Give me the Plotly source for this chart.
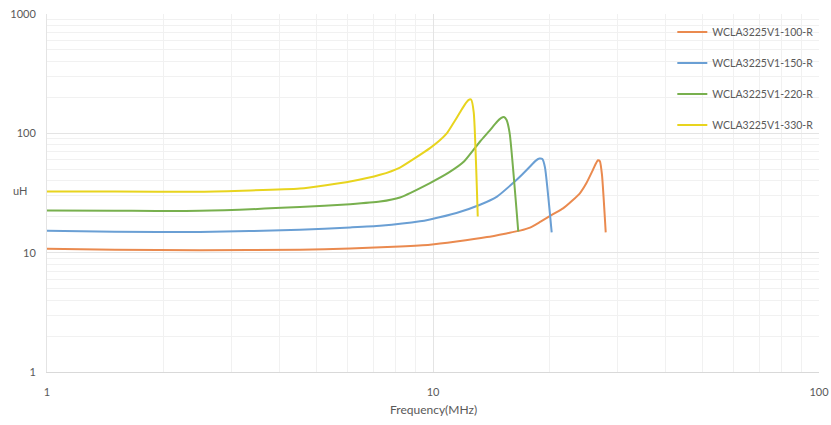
import plotly.graph_objects as go

# Frequency (MHz) / inductance (uH)
f_100 = [1.0, 1.5, 2.49, 4.52, 6.10, 8.21, 9.82, 11.5, 13.8, 15.5, 16.8, 17.84, 19.0, 20.46, 21.72, 23.0, 24.04, 25.0, 25.97, 26.4, 26.75, 27.05, 27.4, 28.02]
L_100 = [10.8, 10.6, 10.5, 10.57, 10.85, 11.27, 11.65, 12.4, 13.5, 14.5, 15.3, 16.2, 18.2, 21.0, 23.5, 27.5, 31.6, 38.5, 49.5, 55.5, 59.5, 58.5, 45.0, 14.8]

f_150 = [1.0, 1.5, 2.49, 4.52, 6.10, 7.29, 9.25, 9.82, 11.5, 13.24, 14.65, 16.12, 17.0, 17.84, 18.4, 18.86, 19.2, 19.5, 20.3]
L_150 = [15.3, 15.0, 14.9, 15.55, 16.26, 16.8, 18.3, 19.0, 21.5, 25.2, 29.5, 38.3, 45.0, 52.7, 58.5, 61.5, 61.0, 52.0, 14.8]

f_220 = [1.0, 1.5, 2.49, 4.52, 6.10, 7.29, 8.21, 9.82, 11.0, 12.03, 13.24, 14.0, 14.65, 15.0, 15.27, 15.5, 15.8, 16.63]
L_220 = [22.6, 22.5, 22.4, 24.1, 25.5, 26.8, 29.0, 38.3, 47.0, 58.0, 85.4, 105.0, 125.0, 134.0, 137.0, 130.0, 100.0, 15.05]

f_330 = [1.0, 1.5, 2.49, 4.52, 6.10, 7.29, 8.21, 9.82, 10.4, 10.87, 11.3, 11.75, 12.1, 12.35, 12.55, 12.75, 13.06]
L_330 = [32.6, 32.5, 32.4, 34.5, 39.5, 44.9, 51.7, 75.2, 87.0, 100.4, 122.0, 150.0, 175.0, 190.0, 192.0, 150.0, 20.1]

names = ["WCLA3225V1-100-R", "WCLA3225V1-150-R", "WCLA3225V1-220-R", "WCLA3225V1-330-R"]
colors = ["#EA8A4F", "#6A9FD4", "#78B04E", "#E8D41E"]

x_ticks = [1, 10, 100]
y_ticks = [1, 10, 100, 1000]

series = [(f_100, L_100), (f_150, L_150), (f_220, L_220), (f_330, L_330)]

fig = go.Figure()
for i, ((fx, ly), nm, col) in enumerate(zip(series, names, colors)):
    fig.add_trace(go.Scatter(
        x=fx, y=ly, mode="lines", name=nm, legendgroup=nm,
        line=dict(color=col, width=2, shape="spline", smoothing=0.5),
    ))

font_family = "Lato, 'Open Sans', sans-serif"
grid_major = "#e4e4e4"
grid_minor = "#f1f1f1"

fig.update_layout(
    width=831, height=425,
    margin=dict(l=47, r=12, t=14, b=53),
    paper_bgcolor="white", plot_bgcolor="white",
    font=dict(family=font_family, size=11, color="#595959"),
    showlegend=True,
    legend=dict(
        x=0.81, y=0.99, xanchor="left", yanchor="top",
        bgcolor="rgba(0,0,0,0)", font=dict(size=10.5, color="#595959"),
        tracegroupgap=12,
    ),
    xaxis=dict(
        type="log", range=[0, 2], automargin=False,
        tickvals=x_ticks, ticktext=[str(v) for v in x_ticks],
        showgrid=True, gridcolor=grid_major, gridwidth=1,
        minor=dict(showgrid=True, gridcolor=grid_minor, tickvals=[m * d for d in [1, 10] for m in range(2, 10)]),
        showline=True, linecolor="#d9d9d9", linewidth=1,
        zeroline=False, ticks="", ticklabelstandoff=10, ticklabeloverflow="allow",
    ),
    yaxis=dict(
        type="log", range=[0, 3], automargin=False,
        tickvals=y_ticks, ticktext=[str(v) for v in y_ticks],
        showgrid=True, gridcolor=grid_major, gridwidth=1,
        minor=dict(showgrid=True, gridcolor=grid_minor, tickvals=[m * d for d in [1, 10, 100] for m in range(2, 10)]),
        showline=True, linecolor="#e4e4e4", linewidth=1,
        zeroline=False, ticks="", ticklabelstandoff=8, ticklabeloverflow="allow",
    ),
    annotations=[
        dict(text="uH", xref="paper", yref="paper", x=-0.035, y=0.508,
             xanchor="center", yanchor="middle", showarrow=False,
             font=dict(size=11, color="#595959")),
        dict(text="Frequency(MHz)", xref="paper", yref="paper", x=0.5, y=-0.106,
             xanchor="center", yanchor="middle", showarrow=False,
             font=dict(size=12, color="#595959")),
    ],
)

fig.write_html(
    "out.html",
    config={"displayModeBar": False},
    post_script="document.body.style.margin='0';document.body.style.overflow='hidden';",
)
